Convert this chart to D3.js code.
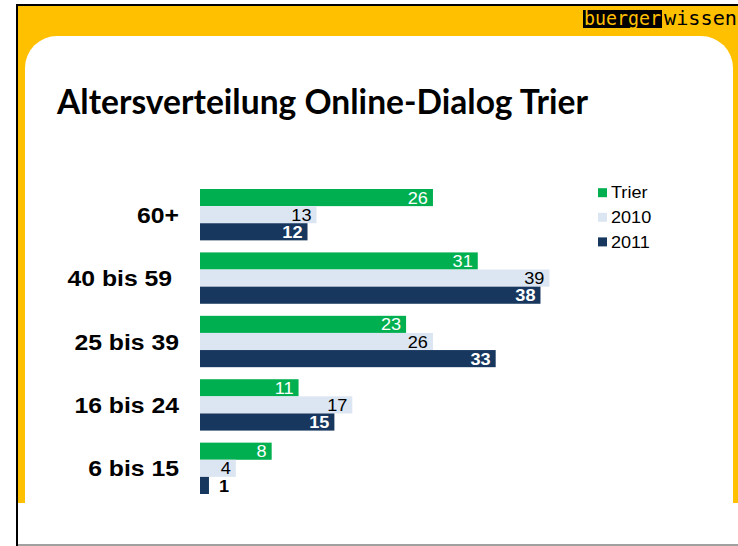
<!DOCTYPE html>
<html><head><meta charset="utf-8">
<script src="https://cdn.jsdelivr.net/npm/d3@7/dist/d3.min.js"></script>
<style>body{margin:0;background:#fff}svg{display:block}</style>
</head><body>
<svg id="c" width="738" height="546"></svg>
<script>
const categories = ["60+", "40 bis 59 ", "25 bis 39", "16 bis 24", "6 bis 15"];
const seriesNames = ["Trier", "2010", "2011"];
const trierValues = [26, 31, 23, 11, 8];
const values2010 = [13, 39, 26, 17, 4];
const values2011 = [12, 38, 33, 15, 1];
const seriesColors = ["#00B050", "#DCE6F2", "#17375E"];
const labelColors = ["#ffffff", "#000000", "#ffffff"];
const labelWeights = ["normal", "normal", "bold"];
const titleText = "Altersverteilung Online-Dialog Trier";

const seriesValues = [trierValues, values2010, values2011];
const svg = d3.select("#c");
const W = 738, H = 546;
const arial = "'Liberation Sans', Arial, sans-serif";

// frame
svg.append("rect").attr("x", 18).attr("y", 6).attr("width", W - 18).attr("height", 497).attr("fill", "#FFC000");
svg.append("path").attr("fill", "#fff")
  .attr("d", "M25,503 V68 A32,32 0 0 1 57,36 H701 A32,32 0 0 1 733,68 V503 Z");
svg.append("rect").attr("x", 18).attr("y", 503).attr("width", W - 18).attr("height", H - 503).attr("fill", "#fff");
svg.append("line").attr("x1", 18).attr("x2", W).attr("y1", 545).attr("y2", 545).attr("stroke", "#808080").attr("stroke-width", 1.5);
svg.append("line").attr("x1", 17).attr("x2", 17).attr("y1", 4).attr("y2", H).attr("stroke", "#000").attr("stroke-width", 2);
svg.append("line").attr("x1", 16).attr("x2", W).attr("y1", 5).attr("y2", 5).attr("stroke", "#000").attr("stroke-width", 2);

// logo
svg.append("rect").attr("x", 583).attr("y", 10).attr("width", 79).attr("height", 18).attr("fill", "#000");
svg.append("text").attr("x", 584).attr("y", 25).attr("font-family", "'DejaVu Sans Mono', monospace")
  .attr("font-size", 19).attr("fill", "#FFC000").attr("textLength", 77).attr("lengthAdjust", "spacingAndGlyphs").text("buerger");
svg.append("text").attr("x", 664).attr("y", 25).attr("font-family", "'DejaVu Sans Mono', monospace")
  .attr("font-size", 19).attr("fill", "#000").attr("textLength", 73).attr("lengthAdjust", "spacingAndGlyphs").text("wissen");

// title
svg.append("text").attr("x", 57).attr("y", 114).attr("font-family", "Lato, 'Open Sans', sans-serif")
  .attr("font-weight", 700).attr("font-size", 34).attr("fill", "#000")
  .attr("textLength", 531).attr("lengthAdjust", "spacingAndGlyphs").text(titleText);

// scales
const x = d3.scaleLinear().domain([0, 40]).range([200, 558.4]);
const y = d3.scaleBand().domain(categories).range([189, 494]).paddingInner(0.19).paddingOuter(0);
const ys = d3.scaleBand().domain(seriesNames).range([0, y.bandwidth()]).padding(0);

const groups = svg.append("g").selectAll("g").data(categories).join("g")
  .attr("transform", d => `translate(0,${y(d)})`);

seriesNames.forEach((s, si) => {
  groups.append("rect")
    .attr("x", x(0)).attr("y", ys(s))
    .attr("width", (d, i) => x(seriesValues[si][i]) - x(0))
    .attr("height", ys.bandwidth())
    .attr("fill", seriesColors[si]);
  groups.append("text")
    .attr("transform", (d, i) => {
      const v = seriesValues[si][i];
      const xe = Math.max(x(v) - 5, x(0) + 29);
      return `translate(${xe},${ys(s) + ys.bandwidth() / 2}) scale(1.1,1)`;
    })
    .attr("dy", "0.37em")
    .attr("text-anchor", "end")
    .attr("font-family", arial).attr("font-size", 16.5)
    .attr("font-weight", labelWeights[si])
    .attr("fill", (d, i) => (x(seriesValues[si][i]) - x(0) < 30 ? "#000" : labelColors[si]))
    .text((d, i) => seriesValues[si][i]);
});

// category axis labels
svg.append("g").selectAll("text").data(categories).join("text")
  .attr("transform", d => `translate(179,${y(d) + y.bandwidth() / 2}) scale(1.1,1)`)
  .attr("dy", "0.36em").attr("text-anchor", "end")
  .style("white-space", "pre")
  .attr("font-family", arial).attr("font-weight", "bold").attr("font-size", 22.5)
  .attr("fill", "#000").text(d => d);

// legend
const lg = svg.append("g").selectAll("g").data(seriesNames).join("g")
  .attr("transform", (d, i) => `translate(598,${192.7 + i * 24.6})`);
lg.append("rect").attr("x", 0).attr("y", -4.5).attr("width", 9).attr("height", 9)
  .attr("fill", (d, i) => seriesColors[i]);
lg.append("text").attr("transform", "translate(13,0) scale(1.13,1)").attr("dy", "0.36em")
  .attr("font-family", arial).attr("font-size", 16).attr("fill", "#000").text(d => d);
</script>
</body></html>
